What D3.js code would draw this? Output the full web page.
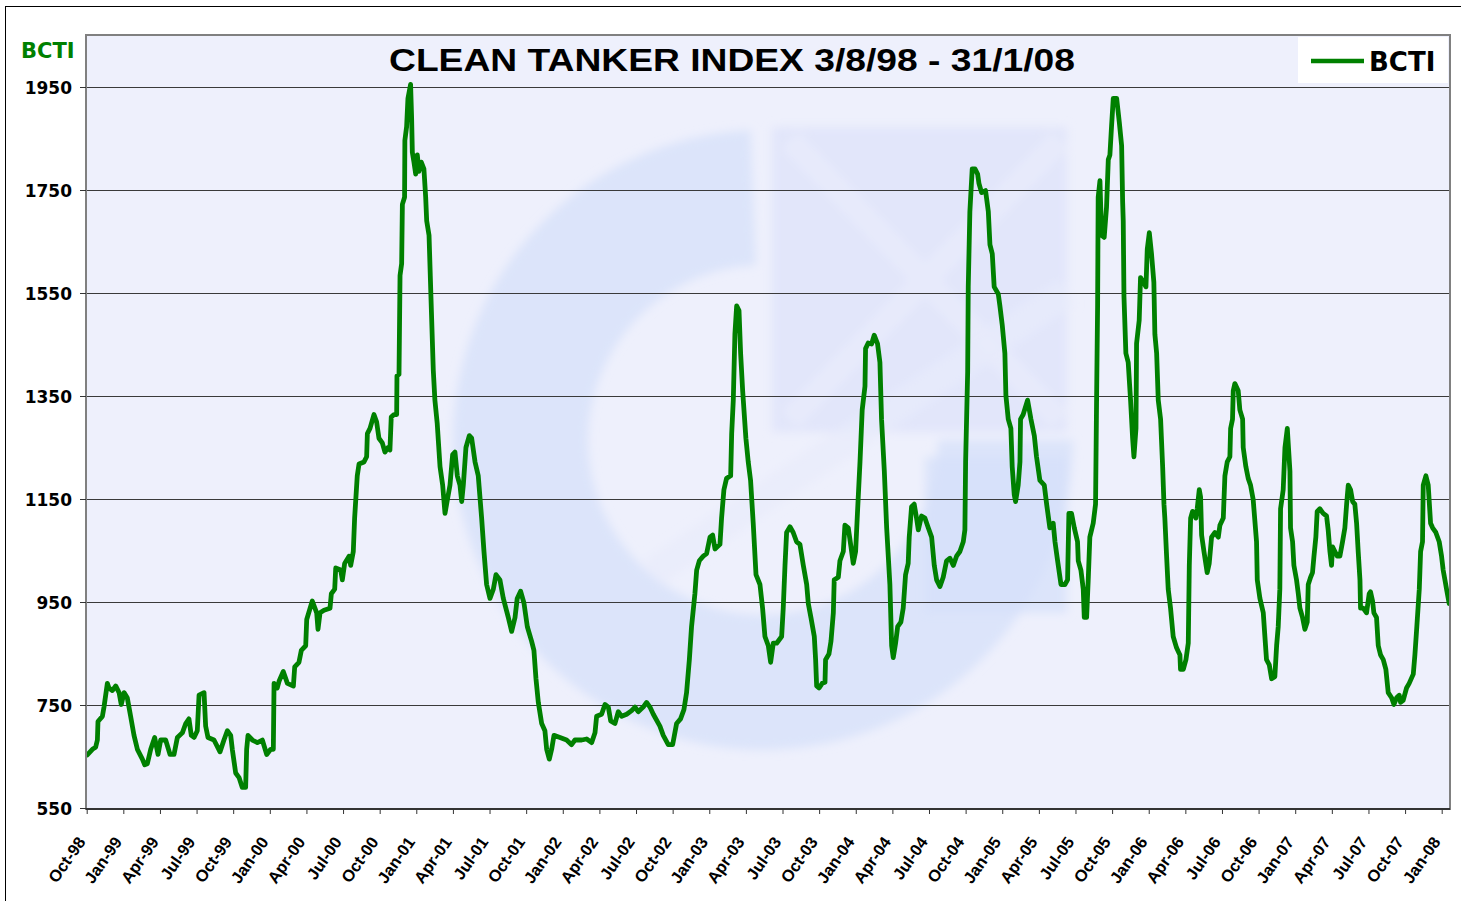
<!DOCTYPE html>
<html><head><meta charset="utf-8">
<script src="https://cdn.jsdelivr.net/npm/d3@7"></script>
<style>body{margin:0;background:#fff;} svg{display:block;}</style>
</head><body><svg id="chart" width="1461" height="901"></svg>
<script>
const seriesName = "BCTI";
const titleText = "CLEAN TANKER INDEX 3/8/98 - 31/1/08";
const yTicks = [550, 750, 950, 1150, 1350, 1550, 1750, 1950];
const xTickLabels = ["Oct-98","Jan-99","Apr-99","Jul-99","Oct-99","Jan-00","Apr-00","Jul-00","Oct-00","Jan-01","Apr-01","Jul-01","Oct-01","Jan-02","Apr-02","Jul-02","Oct-02","Jan-03","Apr-03","Jul-03","Oct-03","Jan-04","Apr-04","Jul-04","Oct-04","Jan-05","Apr-05","Jul-05","Oct-05","Jan-06","Apr-06","Jul-06","Oct-06","Jan-07","Apr-07","Jul-07","Oct-07","Jan-08"];

// [decimal year, index value]
const bcti1998_2001 = [[1998.754,653],[1998.789,664],[1998.811,668],[1998.823,682],[1998.827,718],[1998.857,728],[1998.868,746],[1998.891,792],[1998.902,783],[1998.925,778],[1998.948,787],[1998.971,774],[1998.986,751],[1999.005,774],[1999.027,764],[1999.050,728],[1999.073,691],[1999.096,664],[1999.130,645],[1999.146,634],[1999.164,636],[1999.187,664],[1999.214,687],[1999.237,654],[1999.255,682],[1999.289,682],[1999.319,654],[1999.346,654],[1999.369,687],[1999.403,696],[1999.426,714],[1999.448,723],[1999.464,691],[1999.483,687],[1999.505,700],[1999.517,769],[1999.551,774],[1999.562,709],[1999.578,687],[1999.619,682],[1999.660,659],[1999.687,682],[1999.710,700],[1999.733,691],[1999.744,664],[1999.767,618],[1999.790,609],[1999.812,590],[1999.835,590],[1999.842,664],[1999.851,691],[1999.881,682],[1999.915,677],[1999.949,682],[1999.979,654],[2000.006,664],[2000.024,664],[2000.029,792],[2000.051,783],[2000.063,796],[2000.092,815],[2000.120,792],[2000.161,787],[2000.170,824],[2000.199,833],[2000.215,856],[2000.245,865],[2000.252,916],[2000.290,952],[2000.320,929],[2000.329,897],[2000.343,929],[2000.370,934],[2000.411,938],[2000.420,966],[2000.443,975],[2000.450,1016],[2000.484,1012],[2000.495,993],[2000.511,1025],[2000.541,1039],[2000.552,1021],[2000.570,1048],[2000.579,1113],[2000.597,1195],[2000.609,1218],[2000.643,1222],[2000.661,1232],[2000.666,1277],[2000.684,1287],[2000.711,1314],[2000.729,1300],[2000.745,1268],[2000.768,1259],[2000.786,1241],[2000.807,1250],[2000.820,1245],[2000.829,1309],[2000.848,1314],[2000.866,1314],[2000.868,1389],[2000.882,1392],[2000.889,1584],[2000.900,1607],[2000.905,1722],[2000.920,1736],[2000.922,1846],[2000.934,1873],[2000.943,1928],[2000.961,1955],[2000.968,1891],[2000.973,1823],[2000.984,1804],[2000.996,1781],[2001.007,1818],[2001.018,1786],[2001.034,1804],[2001.052,1791],[2001.064,1736],[2001.071,1690],[2001.087,1662],[2001.100,1543],[2001.116,1400],[2001.127,1342]];
const bcti2001_2003 = [[2001.143,1296],[2001.162,1213],[2001.180,1177],[2001.196,1122],[2001.207,1140],[2001.230,1177],[2001.248,1236],[2001.264,1241],[2001.280,1195],[2001.298,1177],[2001.310,1145],[2001.321,1177],[2001.339,1250],[2001.362,1273],[2001.378,1268],[2001.401,1222],[2001.423,1195],[2001.446,1113],[2001.462,1048],[2001.480,984],[2001.503,957],[2001.526,975],[2001.544,1003],[2001.571,993],[2001.594,957],[2001.628,920],[2001.651,893],[2001.674,920],[2001.689,957],[2001.712,971],[2001.735,948],[2001.758,902],[2001.787,874],[2001.803,856],[2001.817,801],[2001.833,755],[2001.856,714],[2001.878,700],[2001.890,664],[2001.908,645],[2001.924,664],[2001.940,691],[2001.981,687],[2002.026,682],[2002.060,673],[2002.083,682],[2002.129,682],[2002.163,684],[2002.197,677],[2002.220,696],[2002.231,728],[2002.265,732],[2002.288,751],[2002.311,746],[2002.327,719],[2002.356,714],[2002.379,737],[2002.402,728],[2002.436,732],[2002.470,739],[2002.493,746],[2002.515,737],[2002.549,746],[2002.572,755],[2002.595,746],[2002.618,732],[2002.663,709],[2002.686,691],[2002.720,673],[2002.750,673],[2002.777,714],[2002.804,723],[2002.827,741],[2002.845,774],[2002.864,838],[2002.879,902],[2002.902,966],[2002.914,1012],[2002.932,1030],[2002.959,1039],[2002.982,1044],[2003.005,1076],[2003.023,1080],[2003.039,1053],[2003.073,1062],[2003.084,1113],[2003.100,1168],[2003.118,1190],[2003.146,1195],[2003.153,1277],[2003.164,1342],[2003.175,1470],[2003.187,1525],[2003.203,1516],[2003.214,1433],[2003.228,1360],[2003.250,1268],[2003.266,1222],[2003.282,1186],[2003.300,1103],[2003.319,1003],[2003.346,984],[2003.364,938],[2003.380,883],[2003.403,865],[2003.419,833],[2003.437,870]];
const bcti2003_2005 = [[2003.460,870],[2003.494,883],[2003.505,938],[2003.517,1021],[2003.528,1085],[2003.551,1096],[2003.573,1085],[2003.596,1067],[2003.619,1062],[2003.642,1021],[2003.665,984],[2003.676,947],[2003.694,920],[2003.717,883],[2003.726,838],[2003.733,787],[2003.749,783],[2003.771,792],[2003.790,794],[2003.794,838],[2003.817,849],[2003.831,874],[2003.847,929],[2003.853,993],[2003.881,998],[2003.892,1030],[2003.915,1048],[2003.926,1099],[2003.949,1094],[2003.967,1058],[2003.983,1025],[2003.999,1048],[2004.013,1131],[2004.029,1222],[2004.044,1323],[2004.063,1369],[2004.067,1442],[2004.085,1453],[2004.108,1451],[2004.126,1468],[2004.149,1451],[2004.165,1415],[2004.176,1305],[2004.195,1204],[2004.211,1094],[2004.233,984],[2004.245,865],[2004.256,842],[2004.272,870],[2004.286,902],[2004.308,911],[2004.324,938],[2004.340,1003],[2004.358,1025],[2004.365,1076],[2004.381,1135],[2004.399,1140],[2004.415,1113],[2004.427,1090],[2004.449,1117],[2004.472,1113],[2004.495,1094],[2004.518,1076],[2004.536,1021],[2004.552,993],[2004.575,980],[2004.597,998],[2004.620,1030],[2004.643,1035],[2004.666,1021],[2004.688,1039],[2004.711,1048],[2004.734,1067],[2004.745,1090],[2004.750,1222],[2004.764,1397],[2004.768,1562],[2004.779,1708],[2004.795,1791],[2004.814,1791],[2004.832,1781],[2004.841,1763],[2004.859,1745],[2004.886,1749],[2004.905,1708],[2004.916,1644],[2004.932,1626],[2004.945,1562],[2004.973,1548],[2004.984,1525],[2005.000,1488],[2005.018,1433],[2005.025,1351],[2005.041,1305],[2005.059,1287],[2005.068,1213],[2005.082,1158],[2005.091,1145],[2005.109,1177],[2005.121,1222],[2005.125,1305],[2005.143,1314],[2005.173,1342],[2005.196,1305],[2005.219,1273],[2005.234,1232],[2005.257,1186],[2005.287,1177],[2005.303,1140],[2005.325,1094],[2005.348,1103],[2005.360,1067],[2005.378,1030],[2005.401,984],[2005.428,984],[2005.446,993],[2005.455,1122],[2005.473,1122],[2005.492,1094],[2005.514,1067],[2005.519,1030],[2005.537,1012],[2005.553,975],[2005.560,920],[2005.576,920],[2005.587,993],[2005.598,1076],[2005.621,1103],[2005.637,1140],[2005.644,1342],[2005.651,1525],[2005.655,1736],[2005.667,1768],[2005.678,1662],[2005.696,1658],[2005.712,1717],[2005.724,1809],[2005.735,1818],[2005.746,1873],[2005.758,1928]];
const bcti2005_2008 = [[2005.781,1928],[2005.799,1882],[2005.815,1836],[2005.822,1726],[2005.826,1690],[2005.831,1543],[2005.844,1433],[2005.860,1415],[2005.876,1342],[2005.890,1268],[2005.899,1232],[2005.913,1287],[2005.917,1452],[2005.935,1497],[2005.944,1580],[2005.963,1571],[2005.981,1562],[2005.990,1635],[2006.004,1667],[2006.019,1626],[2006.035,1571],[2006.042,1470],[2006.054,1433],[2006.065,1342],[2006.081,1305],[2006.095,1213],[2006.104,1140],[2006.110,1113],[2006.122,1039],[2006.133,975],[2006.149,938],[2006.167,883],[2006.190,861],[2006.213,847],[2006.217,819],[2006.236,819],[2006.254,838],[2006.270,870],[2006.277,1021],[2006.286,1113],[2006.299,1126],[2006.322,1113],[2006.331,1131],[2006.345,1168],[2006.354,1154],[2006.361,1080],[2006.377,1048],[2006.399,1007],[2006.413,1025],[2006.429,1076],[2006.452,1085],[2006.475,1076],[2006.486,1099],[2006.509,1113],[2006.520,1195],[2006.536,1222],[2006.554,1232],[2006.559,1287],[2006.572,1305],[2006.577,1360],[2006.588,1374],[2006.611,1360],[2006.622,1323],[2006.641,1305],[2006.645,1250],[2006.663,1213],[2006.679,1190],[2006.695,1177],[2006.713,1149],[2006.736,1067],[2006.741,993],[2006.759,957],[2006.782,929],[2006.793,883],[2006.804,838],[2006.823,828],[2006.839,801],[2006.861,805],[2006.873,865],[2006.884,902],[2006.895,975],[2006.900,1131],[2006.918,1168],[2006.930,1250],[2006.946,1287],[2006.964,1204],[2006.968,1094],[2006.982,1067],[2006.991,1021],[2007.009,993],[2007.021,966],[2007.032,938],[2007.050,920],[2007.066,897],[2007.082,911],[2007.089,984],[2007.105,998],[2007.118,1007],[2007.128,1039],[2007.141,1076],[2007.150,1126],[2007.168,1131],[2007.191,1122],[2007.214,1117],[2007.225,1090],[2007.237,1048],[2007.248,1021],[2007.255,1057],[2007.271,1048],[2007.287,1039],[2007.305,1039],[2007.323,1067],[2007.339,1094],[2007.351,1140],[2007.362,1177],[2007.378,1168],[2007.392,1145],[2007.407,1140],[2007.419,1103],[2007.430,1048],[2007.442,993],[2007.446,938],[2007.464,938],[2007.487,929],[2007.505,966],[2007.514,970],[2007.528,952],[2007.537,929],[2007.555,920],[2007.567,865],[2007.583,847],[2007.601,838],[2007.619,819],[2007.635,774],[2007.658,764],[2007.674,751],[2007.692,764],[2007.710,769],[2007.719,755],[2007.737,759],[2007.760,783],[2007.778,792],[2007.806,810],[2007.817,847],[2007.828,893],[2007.847,975],[2007.856,1048],[2007.869,1067],[2007.874,1177],[2007.892,1195],[2007.908,1177],[2007.924,1103],[2007.938,1094],[2007.960,1085],[2007.983,1067],[2007.999,1039],[2008.010,1012],[2008.022,993],[2008.033,975],[2008.051,947]];

const series = [].concat(bcti1998_2001, bcti2001_2003, bcti2003_2005, bcti2005_2008);

const monthIdx = {Jan:0, Apr:0.25, Jul:0.5, Oct:0.75};
const xTickValues = xTickLabels.map(l => { const [m, yy] = l.split("-"); const y = +yy; return (y < 50 ? 2000 + y : 1900 + y) + monthIdx[m]; });

const svg = d3.select("#chart");
const P = {left: 86, right: 1450, top: 35, bottom: 809};
const x = d3.scaleLinear().domain([1998.75, 2008.0]).range([86.7, 1441.7]);
const y = d3.scaleLinear().domain([550, 1950]).range([808, 87]);
const FONT = "'DejaVu Sans', Verdana, sans-serif";
const ARIAL = "'Liberation Sans', Arial, sans-serif";
const GREEN = "#008000";

// outer frame
svg.append("rect").attr("x", 5.5).attr("y", 6.5).attr("width", 1500).attr("height", 950)
  .attr("fill", "#fff").attr("stroke", "#000").attr("stroke-width", 1);

// plot background
svg.append("rect").attr("x", P.left).attr("y", P.top).attr("width", P.right - P.left).attr("height", P.bottom - P.top)
  .attr("fill", "#eef0fc");

// watermark logo (faint)
const defs = svg.append("defs");
defs.append("clipPath").attr("id", "plotclip").append("rect")
  .attr("x", P.left).attr("y", P.top).attr("width", P.right - P.left).attr("height", P.bottom - P.top);
defs.append("filter").attr("id", "soft").attr("x", "-10%").attr("y", "-10%").attr("width", "120%").attr("height", "120%")
  .append("feGaussianBlur").attr("stdDeviation", 5);
const wm = svg.append("g").attr("clip-path", "url(#plotclip)").append("g").attr("filter", "url(#soft)");
const cx = 763, cy = 440;
wm.append("path").attr("transform", `translate(${cx},${cy})`)
  .attr("d", d3.arc().innerRadius(175).outerRadius(310).startAngle(Math.PI / 2).endAngle(2 * Math.PI - 0.04)())
  .attr("fill", "#d6e0fa").attr("opacity", 0.75);
wm.append("rect").attr("x", 772).attr("y", 127).attr("width", 295).attr("height", 305)
  .attr("fill", "#dfe3fa").attr("opacity", 0.8);
wm.append("path").attr("d", "M 790 140 L 1060 420 M 790 420 L 1060 140")
  .attr("stroke", "#eef0fc").attr("stroke-width", 24).attr("opacity", 0.5).attr("fill", "none");
wm.append("rect").attr("x", 925).attr("y", 457).attr("width", 142).attr("height", 156)
  .attr("fill", "#d6e0fa").attr("opacity", 0.75);
wm.append("path").attr("d", "M 652 573 L 1067 292")
  .attr("stroke", "#e8ebfb").attr("stroke-width", 30).attr("opacity", 0.7);

// gridlines
svg.append("g").selectAll("line").data(yTicks.slice(1)).join("line")
  .attr("x1", P.left).attr("x2", P.right)
  .attr("y1", d => Math.round(y(d)) + 0.5).attr("y2", d => Math.round(y(d)) + 0.5)
  .attr("stroke", "#3a3a3a").attr("stroke-width", 1);

// line
svg.append("path").datum(series)
  .attr("clip-path", "url(#plotclip)")
  .attr("fill", "none").attr("stroke", GREEN).attr("stroke-width", 4.8)
  .attr("stroke-linejoin", "round").attr("stroke-linecap", "round")
  .attr("d", d3.line().x(d => x(d[0])).y(d => y(d[1])));

// plot border
svg.append("rect").attr("x", P.left).attr("y", P.top).attr("width", P.right - P.left).attr("height", P.bottom - P.top)
  .attr("fill", "none").attr("stroke", "#808080").attr("stroke-width", 2);

// y axis
const yAxis = svg.append("g").attr("transform", `translate(${P.left},0)`)
  .call(d3.axisLeft(y).tickValues(yTicks).tickSize(6).tickPadding(8).tickFormat(d3.format("d")));
yAxis.select(".domain").remove();
yAxis.selectAll("line").attr("stroke", "#333");
yAxis.selectAll("text").attr("font-family", FONT).attr("font-weight", "bold").attr("font-size", 17)
  .attr("fill", "#000").attr("dy", "0.36em");

// x axis
const xAxis = svg.append("g").attr("transform", `translate(0,${P.bottom})`)
  .call(d3.axisBottom(x).tickValues(xTickValues).tickSize(5).tickFormat((d, i) => xTickLabels[i]));
xAxis.select(".domain").attr("stroke", "#333").attr("stroke-width", 2).attr("d", `M${P.left},0H${P.right}`);
xAxis.selectAll("line").attr("stroke", "#333");
xAxis.selectAll("text").attr("font-family", ARIAL).attr("font-weight", "bold").attr("font-size", 16.5)
  .attr("fill", "#000").attr("x", 0).attr("y", 0).attr("dy", 0)
  .attr("text-anchor", "end").attr("transform", "translate(-1,33) rotate(-55)");

// y axis caption
svg.append("text").attr("x", 21).attr("y", 58).text(seriesName)
  .attr("font-family", FONT).attr("font-weight", "bold").attr("font-size", 21).attr("fill", GREEN);

// title
svg.append("text").attr("x", 389).attr("y", 71).text(titleText)
  .attr("font-family", ARIAL).attr("font-weight", "bold").attr("font-size", 31).attr("fill", "#000")
  .attr("textLength", 686).attr("lengthAdjust", "spacingAndGlyphs");

// legend
const lg = svg.append("g");
lg.append("rect").attr("x", 1298).attr("y", 37).attr("width", 150).attr("height", 46).attr("fill", "#fff");
lg.append("line").attr("x1", 1311).attr("x2", 1364).attr("y1", 61).attr("y2", 61)
  .attr("stroke", GREEN).attr("stroke-width", 4.5);
lg.append("text").attr("x", 1369).attr("y", 71).text(seriesName)
  .attr("font-family", FONT).attr("font-weight", "bold").attr("font-size", 26).attr("fill", "#000");
</script></body></html>
